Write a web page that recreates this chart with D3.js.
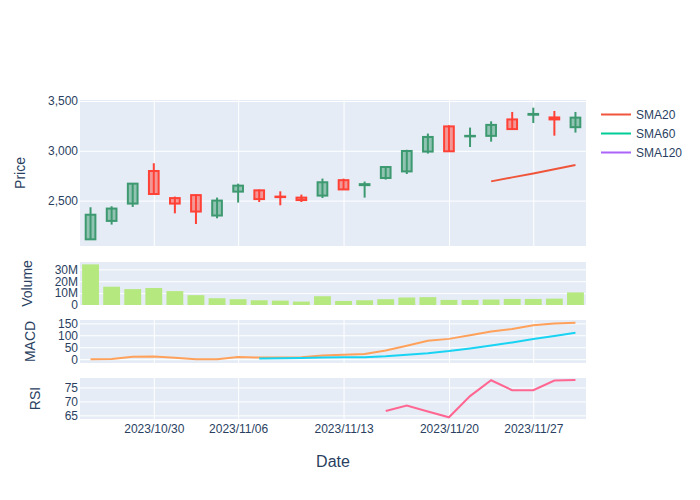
<!DOCTYPE html>
<html>
<head>
<meta charset="utf-8">
<script src="https://cdn.jsdelivr.net/npm/d3@7"></script>
<style>
  body { margin: 0; background: #fff; }
  svg text { font-family: "Liberation Sans", Arial, sans-serif; fill: #2a3f5f; }
</style>
</head>
<body>
<div id="chart"></div>
<script>
// trading days (weekends and JP holidays 11/03, 11/23 are not in the list)
const dates = ['2023-10-25', '2023-10-26', '2023-10-27', '2023-10-30', '2023-10-31', '2023-11-01',
  '2023-11-02', '2023-11-06', '2023-11-07', '2023-11-08', '2023-11-09', '2023-11-10',
  '2023-11-13', '2023-11-14', '2023-11-15', '2023-11-16', '2023-11-17', '2023-11-20',
  '2023-11-21', '2023-11-22', '2023-11-24', '2023-11-27', '2023-11-28', '2023-11-29'];
const open = [2111, 2296, 2470, 2797, 2525, 2555, 2350, 2590, 2603, 2540, 2530, 2550,
  2705, 2655, 2727, 2793, 2992, 3245, 3145, 3150, 3315, 3362, 3335, 3237];
const high = [2433, 2443, 2675, 2875, 2540, 2562, 2530, 2670, 2610, 2593, 2560, 2721,
  2720, 2691, 2840, 3010, 3173, 3256, 3233, 3296, 3390, 3433, 3400, 3390];
const low = [2106, 2259, 2436, 2560, 2372, 2265, 2322, 2480, 2486, 2453, 2486, 2526,
  2608, 2530, 2711, 2767, 2972, 2990, 3038, 3092, 3215, 3279, 3152, 3183];
const close = [2358, 2420, 2670, 2566, 2470, 2390, 2500, 2650, 2515, 2535, 2505, 2684,
  2612, 2665, 2837, 2998, 3139, 2995, 3150, 3260, 3218, 3370, 3315, 3333];
const volume = [34.2e6, 15.4e6, 13.4e6, 14.3e6, 11.7e6, 8.3e6, 5.7e6, 4.9e6, 4.0e6, 3.7e6, 2.9e6, 7.4e6,
  3.4e6, 4.0e6, 4.9e6, 6.3e6, 6.6e6, 4.3e6, 4.3e6, 4.6e6, 5.1e6, 5.1e6, 5.4e6, 10.6e6];
const sma20 = [null, null, null, null, null, null, null, null, null, null, null, null,
  null, null, null, null, null, null, null, 2693, 2733, 2773, 2815, 2857];
const sma60 = [];
const sma120 = [];
const macd = [0, 1, 10, 11, 6, 0, 0, 9, 7, 7, 8, 15, 19, 22, 36, 56, 77, 85, 100, 116, 126, 142, 149, 153];
const signal = [null, null, null, null, null, null, null, null, 3, 4, 5, 7,
  8, 8, 12, 19, 25, 34, 45, 57, 70, 84, 97, 111];
const rsi = [null, null, null, null, null, null, null, null, null, null, null, null,
  null, null, 66.6, 68.5, 66.4, 64.3, 71.9, 77.6, 74.0, 74.0, 77.5, 77.7];
const dateTicks = ['2023-10-30', '2023-11-06', '2023-11-13', '2023-11-20', '2023-11-27'];
const priceTicks = [2500, 3000, 3500];
const volumeTicks = [0, 10e6, 20e6, 30e6];
const macdTicks = [0, 50, 100, 150];
const rsiTicks = [65, 70, 75];

const width = 700, height = 500;
const left = 80, right = 586;
const incColor = '#3D9970', decColor = '#FF4136';

const svg = d3.select('#chart').append('svg')
  .attr('width', width)
  .attr('height', height);

const x = d3.scalePoint()
  .domain(dates)
  .range([left, right])
  .padding(0.5);

const fmtDate = d3.timeFormat('%Y/%m/%d');
const parse = d3.timeParse('%Y-%m-%d');

const panels = [
  { name: 'price', top: 100, bottom: 246, domain: [2044, 3510], ticks: priceTicks, fmt: d3.format(','), title: 'Price', tx: 20, vgrid: true },
  { name: 'volume', top: 262, bottom: 305, domain: [0, 36.2e6], ticks: volumeTicks, fmt: d3.format('~s'), title: 'Volume', tx: 27, vgrid: false },
  { name: 'macd', top: 320, bottom: 363, domain: [-16, 164], ticks: macdTicks, fmt: d3.format('d'), title: 'MACD', tx: 30.5, vgrid: true },
  { name: 'rsi', top: 378, bottom: 419, domain: [63.7, 78.4], ticks: rsiTicks, fmt: d3.format('d'), title: 'RSI', tx: 35.5, vgrid: true }
];

panels.forEach(p => {
  p.y = d3.scaleLinear().domain(p.domain).range([p.bottom, p.top]);

  svg.append('rect')
    .attr('x', left)
    .attr('y', p.top)
    .attr('width', right - left)
    .attr('height', p.bottom - p.top)
    .attr('fill', '#E5ECF6');

  // horizontal grid
  svg.append('g')
    .attr('transform', `translate(${left},0)`)
    .call(d3.axisLeft(p.y).tickValues(p.ticks).tickSize(-(right - left)).tickFormat(''))
    .call(g => g.select('.domain').remove())
    .call(g => g.selectAll('line').attr('stroke', '#fff').attr('stroke-width', 1));

  if (p.vgrid) {
    svg.append('g')
      .attr('transform', `translate(0,${p.bottom})`)
      .call(d3.axisBottom(x).tickValues(dateTicks).tickSize(-(p.bottom - p.top)).tickFormat(''))
      .call(g => g.select('.domain').remove())
      .call(g => g.selectAll('line').attr('stroke', '#fff').attr('stroke-width', 1));
  }

  svg.append('g')
    .attr('transform', `translate(${left},0)`)
    .call(d3.axisLeft(p.y).tickValues(p.ticks).tickSize(0).tickPadding(2).tickFormat(p.fmt))
    .call(g => g.select('.domain').remove())
    .call(g => g.selectAll('text').style('font-size', '12px').attr('fill', '#2a3f5f'));

  svg.append('text')
    .attr('transform', `translate(${p.tx},${(p.top + p.bottom) / 2}) rotate(-90)`)
    .attr('text-anchor', 'middle')
    .attr('dy', '0.35em')
    .style('font-size', '14px')
    .text(p.title);
});

const [price, vol, macdP, rsiP] = panels;
const step = x.step();

// candlesticks
const candles = svg.append('g').selectAll('g')
  .data(dates.map((d, i) => ({ d, o: open[i], h: high[i], l: low[i], c: close[i] })))
  .enter()
  .append('g');

candles.append('line')
  .attr('x1', d => x(d.d))
  .attr('x2', d => x(d.d))
  .attr('y1', d => price.y(d.h))
  .attr('y2', d => price.y(d.l))
  .attr('stroke', d => d.c >= d.o ? incColor : decColor)
  .attr('stroke-width', 2);

candles.append('rect')
  .attr('x', d => x(d.d) - step * 0.23)
  .attr('width', step * 0.46)
  .attr('y', d => price.y(Math.max(d.o, d.c)))
  .attr('height', d => Math.abs(price.y(d.o) - price.y(d.c)))
  .attr('fill', d => d.c >= d.o ? incColor : decColor)
  .attr('fill-opacity', 0.5)
  .attr('stroke', d => d.c >= d.o ? incColor : decColor)
  .attr('stroke-width', 2);

const lineOf = (yScale, values) => d3.line()
  .defined(d => d != null)
  .x((d, i) => x(dates[i]))
  .y(d => yScale(d))(values);

svg.append('path')
  .attr('d', lineOf(price.y, sma20))
  .attr('fill', 'none')
  .attr('stroke', '#EF553B')
  .attr('stroke-width', 2);

// volume
svg.append('g').selectAll('rect')
  .data(volume)
  .enter()
  .append('rect')
  .attr('x', (d, i) => x(dates[i]) - step * 0.4)
  .attr('width', step * 0.8)
  .attr('y', d => vol.y(d))
  .attr('height', d => vol.y(0) - vol.y(d))
  .attr('fill', '#B6E880');

// macd + signal
svg.append('path')
  .attr('d', lineOf(macdP.y, macd))
  .attr('fill', 'none')
  .attr('stroke', '#FFA15A')
  .attr('stroke-width', 2);

svg.append('path')
  .attr('d', lineOf(macdP.y, signal))
  .attr('fill', 'none')
  .attr('stroke', '#19D3F3')
  .attr('stroke-width', 2);

// rsi
svg.append('path')
  .attr('d', lineOf(rsiP.y, rsi))
  .attr('fill', 'none')
  .attr('stroke', '#FF6692')
  .attr('stroke-width', 2);

// date axis
svg.append('g')
  .attr('transform', `translate(0,${rsiP.bottom})`)
  .call(d3.axisBottom(x).tickValues(dateTicks).tickSize(0).tickPadding(5).tickFormat(d => fmtDate(parse(d))))
  .call(g => g.select('.domain').remove())
  .call(g => g.selectAll('text').style('font-size', '12px').attr('fill', '#2a3f5f'));

svg.append('text')
  .attr('x', (left + right) / 2)
  .attr('y', 467)
  .attr('text-anchor', 'middle')
  .style('font-size', '16px')
  .text('Date');

// legend
const legend = [
  { name: 'SMA20', color: '#EF553B', values: sma20 },
  { name: 'SMA60', color: '#00CC96', values: sma60 },
  { name: 'SMA120', color: '#AB63FA', values: sma120 }
];
const lg = svg.append('g').selectAll('g')
  .data(legend)
  .enter()
  .append('g')
  .attr('transform', (d, i) => `translate(601,${114.5 + i * 19})`);
lg.append('line')
  .attr('x1', 0).attr('x2', 30)
  .attr('stroke', d => d.color)
  .attr('stroke-width', 2);
lg.append('text')
  .attr('x', 35)
  .attr('dy', '0.35em')
  .style('font-size', '12px')
  .text(d => d.name);
</script>
</body>
</html>
